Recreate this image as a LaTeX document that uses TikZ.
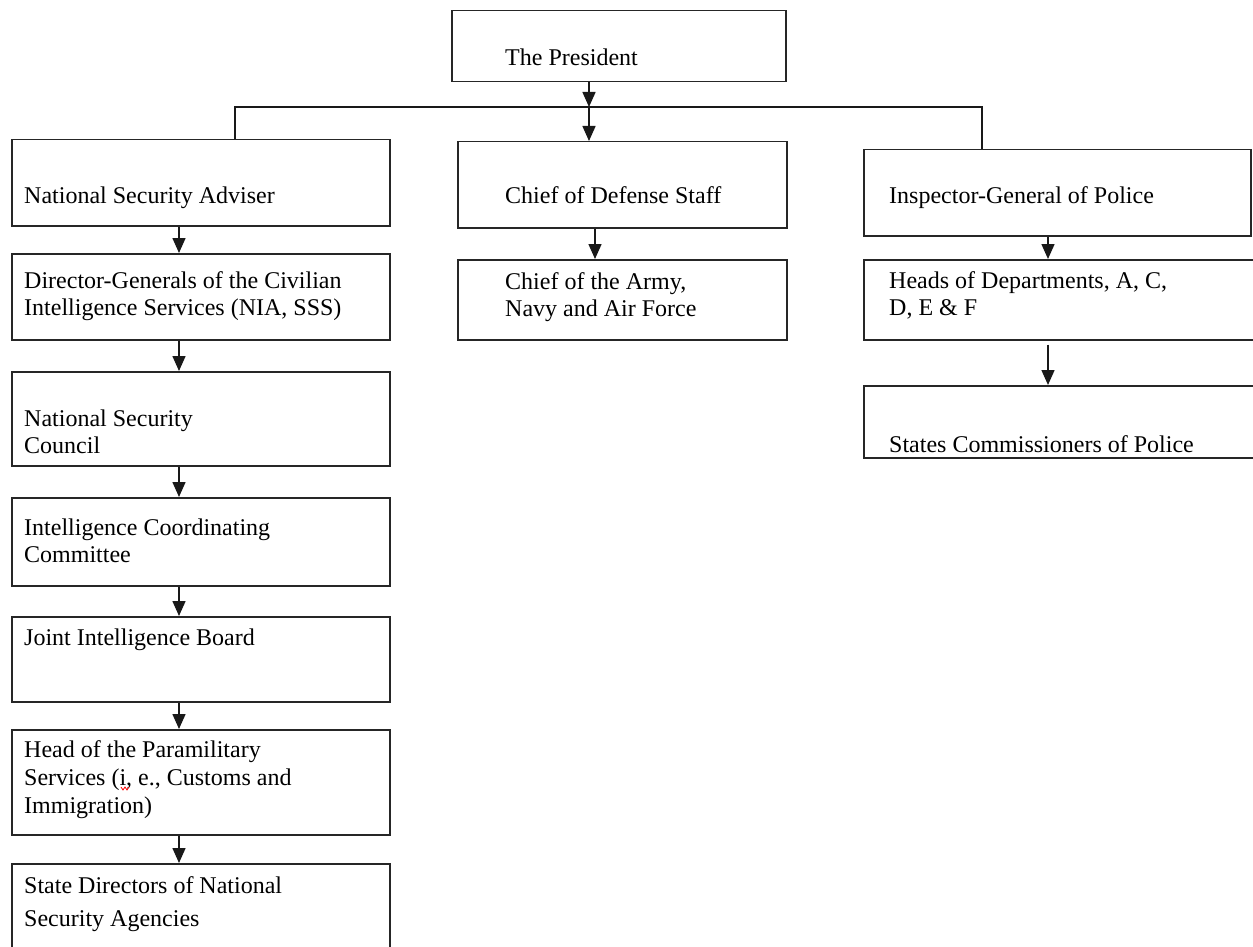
\documentclass[tikz,border=0pt]{standalone}
\usepackage{fontspec}
\setmainfont{Liberation Serif}
\usetikzlibrary{arrows.meta}
\newcommand{\mylines}[1]{\begin{tabular}[t]{@{}l@{}}#1\end{tabular}}
\begin{document}
\begin{tikzpicture}[x=1pt,y=-1pt,
  box/.style={draw=black!85,line width=1.5pt,rectangle,inner sep=0pt,anchor=north west},
  lbl/.style={inner sep=0pt,anchor=base west,font=\fontsize{24}{27.5}\selectfont},
  link/.style={draw=black!90,line width=1.5pt},
  arr/.style={link,-{Triangle[width=13pt,length=15pt]}}]
\clip (0,0) rectangle (1253,947);
\fill[white] (0,0) rectangle (1253,947);
% boxes
\node[box,minimum width=334pt,minimum height=71pt] (pres) at (451,10) {};
\node[box,minimum width=378pt,minimum height=86pt] (nsa) at (11,139) {};
\node[box,minimum width=378pt,minimum height=86pt] (dg) at (11,253) {};
\node[box,minimum width=378pt,minimum height=94pt] (nsc) at (11,371) {};
\node[box,minimum width=378pt,minimum height=88pt] (icc) at (11,497) {};
\node[box,minimum width=378pt,minimum height=85pt] (jib) at (11,616) {};
\node[box,minimum width=378pt,minimum height=105pt] (head) at (11,729) {};
\node[box,minimum width=378pt,minimum height=110pt] (sd) at (11,863) {};
\node[box,minimum width=329pt,minimum height=86pt] (cds) at (457,141) {};
\node[box,minimum width=329pt,minimum height=80pt] (army) at (457,259) {};
\node[box,minimum width=387pt,minimum height=86pt] (igp) at (863,149) {};
\node[box,minimum width=420pt,minimum height=80pt] (hod) at (863,259) {};
\node[box,minimum width=420pt,minimum height=72pt] (scp) at (863,385) {};
% labels
\node[lbl] (tpres) at (505,66) {The President};
\node[lbl] (tnsa) at (24,204) {National Security Adviser};
\node[lbl] (tdg) at (24,288) {\mylines{Director-Generals of the Civilian\\Intelligence Services (NIA, SSS)}};
\node[lbl] (tnsc) at (24,426) {\mylines{National Security\\Council}};
\node[lbl] (ticc) at (24,535) {\mylines{Intelligence Coordinating\\Committee}};
\node[lbl] (tjib) at (24,645) {Joint Intelligence Board};
\node[lbl,font=\fontsize{24}{28}\selectfont] (thead) at (24,757) {\mylines{Head of the Paramilitary\\Services (i, e., Customs and\\Immigration)}};
\node[lbl,font=\fontsize{24}{33}\selectfont] (tsd) at (24,893) {\mylines{State Directors of National\\Security Agencies}};
\node[lbl] (tcds) at (505,203) {Chief of Defense Staff};
\node[lbl] (tarmy) at (505,289) {\mylines{Chief of the Army,\\Navy and Air Force}};
\node[lbl] (tigp) at (889,203) {Inspector-General of Police};
\node[lbl] (thod) at (889,288) {\mylines{Heads of Departments, A, C,\\D, E \& F}};
\node[lbl] (tscp) at (889,452) {States Commissioners of Police};
% spell-check squiggle
\draw[red,line width=0.8pt] (121,787) -- (123,790) -- (125,787) -- (127,790) -- (129,787);
% connectors
\coordinate (j) at (589,107);
\coordinate (jl) at (235,107);
\coordinate (jr) at (982,107);
\coordinate (lc) at (179,0);
\coordinate (mc) at (595,0);
\coordinate (rc) at (1048,0);
\draw[arr] (pres.south -| j) -- (j);
\draw[link] (nsa.north -| jl) -- (jl) -- (jr) -- (jr |- igp.north);
\draw[arr] (j) -- (j |- cds.north);
\draw[arr] (nsa.south -| lc) -- (dg.north -| lc);
\draw[arr] (dg.south -| lc) -- (nsc.north -| lc);
\draw[arr] (nsc.south -| lc) -- (icc.north -| lc);
\draw[arr] (icc.south -| lc) -- (jib.north -| lc);
\draw[arr] (jib.south -| lc) -- (head.north -| lc);
\draw[arr] (head.south -| lc) -- (sd.north -| lc);
\draw[arr] (cds.south -| mc) -- (army.north -| mc);
\draw[arr] (igp.south -| rc) -- (hod.north -| rc);
\draw[arr,shorten <=4pt] (hod.south -| rc) -- (scp.north -| rc);
\end{tikzpicture}
\end{document}
